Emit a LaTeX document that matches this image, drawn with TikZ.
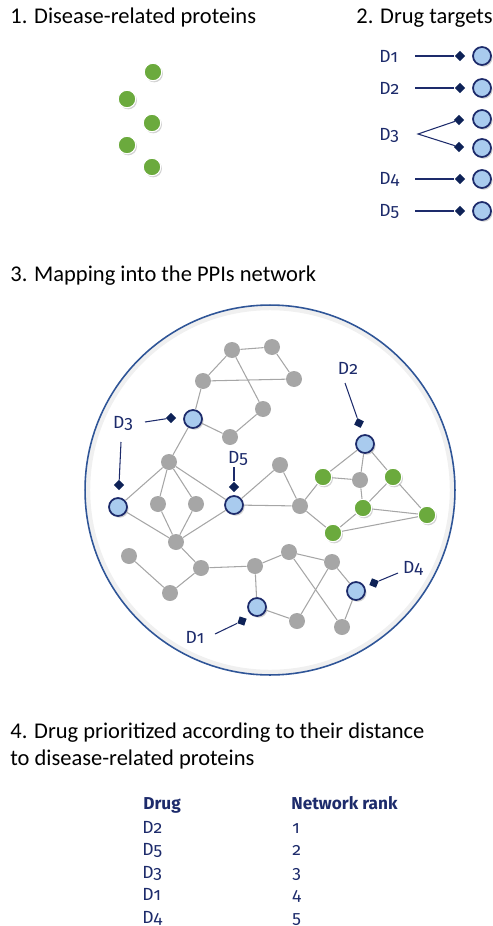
\documentclass[tikz,border=0pt]{standalone}
\usepackage{fontspec}
\setmainfont{Carlito}
\newfontfamily\labelfont[Numbers=OldStyle]{Fira Sans}
\usepackage{tikz}
\usetikzlibrary{shapes.geometric,shadows}
\definecolor{navy}{HTML}{1D2B6B}
\definecolor{darknavy}{HTML}{0E2257}
\definecolor{ringblue}{HTML}{2F5597}
\definecolor{targetblue}{HTML}{A9CBEE}
\definecolor{protgray}{HTML}{A6A6A6}
\definecolor{diseasegreen}{HTML}{6BAA3D}

\begin{document}
\begin{tikzpicture}[x=0.02cm,y=-0.02cm]
\tikzstyle{title}=[anchor=base west,inner sep=0,font=\fontsize{12.8}{15}\selectfont]
\tikzstyle{dlabel}=[inner sep=0,text=navy,font=\labelfont\fontsize{10}{12}\selectfont]
\tikzstyle{prot}=[circle,fill=protgray,minimum size=0.32cm,inner sep=0]
\tikzstyle{dis}=[circle,fill=diseasegreen,draw=white,line width=0.6pt,minimum size=0.35cm,inner sep=0,drop shadow={shadow xshift=0.7pt,shadow yshift=-0.9pt,opacity=0.35}]
\tikzstyle{target}=[circle,fill=targetblue,draw=navy,line width=1pt,minimum size=0.36cm,inner sep=0,drop shadow={shadow xshift=0.9pt,shadow yshift=-1pt,opacity=0.35}]
\tikzstyle{hit}=[diamond,fill=darknavy,minimum size=0.21cm,inner sep=0]
\tikzstyle{link}=[draw=protgray,line width=0.6pt]
\tikzstyle{pointer}=[draw=navy,line width=0.6pt]
\useasboundingbox (0,0) rectangle (493,926);

% 1. disease-related proteins
\node[title] (head1) at (10,24) {1. Disease-related proteins};
\foreach \n/\x/\y in {1/153/72,2/127/99,3/152/123,4/127/145,5/152/167}
  \node[dis] (dp\n) at (\x,\y) {};

% 2. drug targets
\node[title] (head2) at (356,24) {2. Drug targets};
\foreach \d/\y in {1/56,2/88,4/179,5/211}{
  \node[dlabel,anchor=west] (dl\d) at (379,\y) {D\d};
  \coordinate (ds\d) at (415,\y);
  \node[hit] (dh\d) at (460,\y) {};
  \node[target] (dt\d) at (482,\y) {};
  \draw[pointer] (ds\d) -- (dh\d);
}
\node[dlabel,anchor=west] (dl3) at (379,135) {D3};
\coordinate (ds3) at (418,134);
\node[hit] (dh3a) at (459,120) {};
\node[hit] (dh3b) at (459,147) {};
\node[target] (dt3a) at (482,119) {};
\node[target] (dt3b) at (482,148) {};
\draw[pointer] (dh3a) -- (ds3) -- (dh3b);

% 3. mapping into the network
\node[title] (head3) at (10,281) {3. Mapping into the PPIs network};
\node[circle,draw=black!6,line width=2.5pt,minimum size=7.28cm,inner sep=0] (halo) at (270,490) {};
\node[circle,draw=ringblue,line width=0.9pt,minimum size=7.4cm,inner sep=0] (net) at (270,490) {};

\foreach \n/\x/\y in {1/232/350,2/272/347,3/294/379,4/203/381,5/263/409,6/230/437,7/169/462,
  8/280/465,9/158/504,10/196/504,11/300/506,12/176/542,13/289/552,14/332/562,15/201/568,
  16/255/566,17/129/556,18/170/593,19/297/621,20/342/627,21/360/480}
  \node[prot] (g\n) at (\x,\y) {};
\foreach \n/\x/\y in {1/323/477,2/393/477,3/363/508,4/427/515,5/333/533}
  \node[dis] (q\n) at (\x,\y) {};
\node[target] (tD3a) at (193,419) {};
\node[target] (tD3b) at (118,507) {};
\node[target] (tD5) at (234,505) {};
\node[target] (tD2) at (365,444) {};
\node[target] (tD1) at (257,607) {};
\node[target] (tD4) at (356,591) {};

\foreach \a/\b in {g1/g2,g2/g3,g4/g3,g1/g4,g1/g5,g5/g6,tD3a/g6,g4/tD3a,tD3a/g7,
  g7/tD3b,g7/g9,g7/g10,g7/tD5,tD3b/g12,g9/g12,g10/g12,tD5/g12,tD5/g8,tD5/g11,
  g8/g11,g11/q1,g11/q5,g12/g15,g17/g18,g18/g15,g15/g16,g16/g13,g16/tD1,g13/g14,
  g13/g20,g14/g19,g14/tD4,tD4/g20,tD1/g19,tD2/q1,tD2/g21,tD2/q2,q1/g21,g21/q3,
  q2/q3,q2/q4,q3/q4,q3/q5,q5/q4}
  \draw[link] (\a) -- (\b);

% drug pointers in the network
\node[dlabel] (nl3) at (123,423) {D3};
\coordinate (ns3a) at (145,422);
\node[hit] (nh3a) at (171,418) {};
\draw[pointer] (ns3a) -- (nh3a);
\coordinate (ns3b) at (121,442);
\node[hit] (nh3b) at (119,485) {};
\draw[pointer] (ns3b) -- (nh3b);
\node[dlabel] (nl5) at (238,458) {D5};
\coordinate (ns5) at (234,467);
\node[hit] (nh5) at (234,487) {};
\draw[pointer] (ns5) -- (nh5);
\node[dlabel] (nl2) at (348,368) {D2};
\coordinate (ns2) at (345,383);
\node[hit,rotate=19] (nh2) at (359,423) {};
\draw[pointer] (ns2) -- (nh2);
\node[dlabel] (nl1) at (195,637) {D1};
\coordinate (ns1) at (215,634);
\node[hit,rotate=26] (nh1) at (242,621) {};
\draw[pointer] (ns1) -- (nh1);
\node[dlabel] (nl4) at (413,568) {D4};
\coordinate (ns4) at (398,573);
\node[hit,rotate=23] (nh4) at (374,583) {};
\draw[pointer] (ns4) -- (nh4);

% 4. ranking
\node[title] (head4a) at (10,738) {4. Drug prioritized according to their distance};
\node[title] (head4b) at (10,765) {to disease-related proteins};
\node[dlabel,anchor=base west,font=\labelfont\bfseries\fontsize{9.8}{12}\selectfont] (hdrug) at (143,809) {Drug};
\node[dlabel,anchor=base west,font=\labelfont\bfseries\fontsize{9.8}{12}\selectfont] (hrank) at (291,809) {Network rank};
\foreach \d/\r [count=\i] in {2/1,5/2,3/3,1/4,4/5}{
  \node[dlabel,anchor=base west] (drug\i) at (142,{833+22.5*(\i-1)}) {D\d};
  \node[dlabel,anchor=base west] (rank\i) at (292,{833+22.5*(\i-1)}) {\r};
}
\end{tikzpicture}
\end{document}
